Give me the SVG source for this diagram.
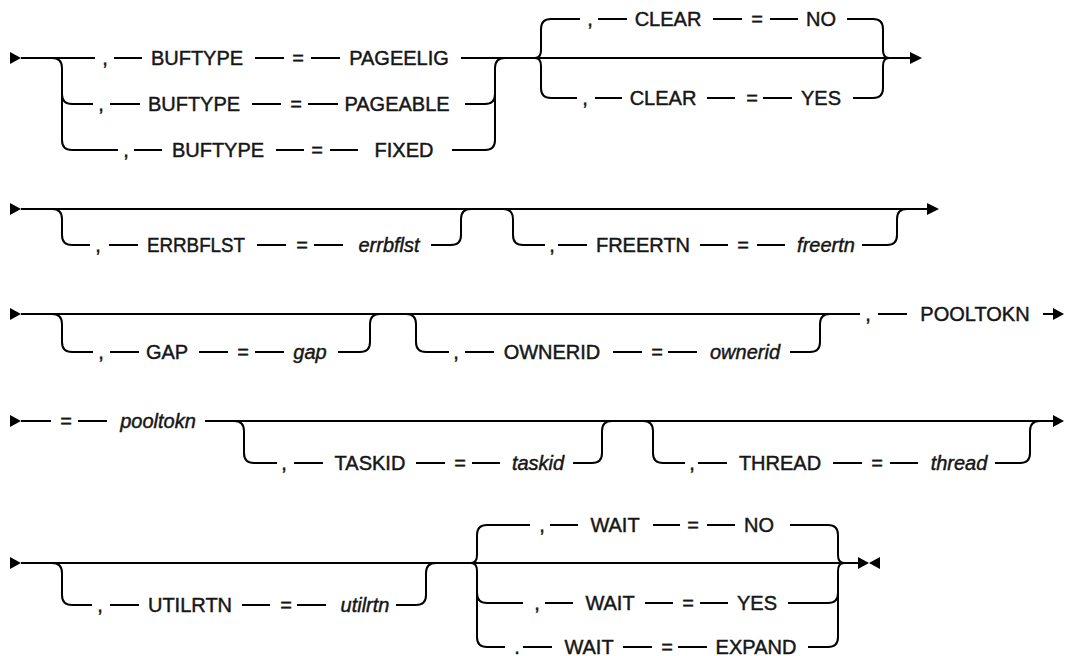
<svg xmlns="http://www.w3.org/2000/svg" width="1065" height="656" viewBox="0 0 1065 656">
<style>
.ln{stroke:#000;stroke-width:2;fill:none;stroke-linecap:butt}
.ar{fill:#000;stroke:none}
.t{font-family:"Liberation Sans",Arial,sans-serif;font-size:20px;text-anchor:middle;fill:#161616;stroke:#161616;stroke-width:0.45}
.v{font-style:italic}
</style>
<rect width="1065" height="656" fill="#fff"/>
<g id="connectors">
<!-- Row 1 -->
<polygon class="ar" points="10,52 21,58 10,64"/>
<path class="ln" d="M21,58 H95"/>
<path class="ln" d="M52,58 Q62,58 62,68 V140 Q62,150 72,150 H118"/>
<path class="ln" d="M62,94 Q62,104 72,104 H93"/>
<path class="ln" d="M114,58 H142 M255,58 H284 M311,58 H340 M461,58 H910"/>
<path class="ln" d="M110,104 H140 M252,104 H281 M308,104 H338 M465,104 H485 Q495,104 495,94"/>
<path class="ln" d="M134,150 H162 M276,150 H304 M330,150 H358 M452,150 H485 Q495,150 495,140 V68 Q495,58 505,58"/>
<path class="ln" d="M535,58 Q541,58 541,50 V29 Q541,19 551,19 H580 M598,19 H627 M713,19 H742 M770,19 H798 M847,19 H873 Q883,19 883,29 V50 Q883,58 889,58"/>
<path class="ln" d="M535,58 Q541,58 541,66 V88 Q541,98 551,98 H577 M595,98 H622 M707,98 H735 M763,98 H792 M853,98 H873 Q883,98 883,88 V66 Q883,58 889,58"/>
<polygon class="ar" points="910,52 922,58 910,64"/>
<!-- Row 2 -->
<polygon class="ar" points="10,203 21,209 10,215"/>
<path class="ln" d="M21,209 H927"/>
<path class="ln" d="M52,209 Q62,209 62,219 V235 Q62,245 72,245 H90 M109,245 H138 M257,245 H286 M314,245 H343 M431,245 H451 Q461,245 461,235 V219 Q461,209 471,209"/>
<path class="ln" d="M503,209 Q513,209 513,219 V235 Q513,245 523,245 H545 M558,245 H587 M700,245 H728 M757,245 H785 M862,245 H887 Q897,245 897,235 V219 Q897,209 907,209"/>
<polygon class="ar" points="927,203 939,209 927,215"/>
<!-- Row 3 -->
<polygon class="ar" points="10,308 21,314 10,320"/>
<path class="ln" d="M21,314 H860"/>
<path class="ln" d="M52,314 Q62,314 62,324 V342 Q62,352 72,352 H93 M110,352 H139 M199,352 H228 M255,352 H284 M338,352 H360 Q370,352 370,342 V324 Q370,314 380,314"/>
<path class="ln" d="M406,314 Q416,314 416,324 V342 Q416,352 426,352 H449 M465,352 H494 M613,352 H642 M668,352 H697 M790,352 H810 Q820,352 820,342 V324 Q820,314 830,314"/>
<path class="ln" d="M878,314 H907 M1043,314 H1054"/>
<polygon class="ar" points="1053,308 1064,314 1053,320"/>
<!-- Row 4 -->
<polygon class="ar" points="10,415 21,421 10,427"/>
<path class="ln" d="M21,421 H51 M78,421 H107 M205,421 H1055"/>
<path class="ln" d="M234,421 Q244,421 244,431 V453 Q244,463 254,463 H277 M294,463 H323 M416,463 H445 M472,463 H500 M573,463 H592 Q602,463 602,453 V431 Q602,421 612,421"/>
<path class="ln" d="M643,421 Q653,421 653,431 V453 Q653,463 663,463 H685 M698,463 H727 M833,463 H862 M890,463 H918 M995,463 H1020 Q1030,463 1030,453 V431 Q1030,421 1040,421"/>
<polygon class="ar" points="1053,415 1064,421 1053,427"/>
<!-- Row 5 -->
<polygon class="ar" points="10,557 21,563 10,569"/>
<path class="ln" d="M21,563 H858"/>
<path class="ln" d="M52,563 Q62,563 62,573 V595 Q62,605 72,605 H92 M110,605 H139 M242,605 H270 M297,605 H326 M396,605 H416 Q426,605 426,595 V573 Q426,563 436,563"/>
<path class="ln" d="M471,563 Q477,563 477,555 V535 Q477,525 487,525 H530 M550,525 H578 M653,525 H680 M707,525 H735 M790,525 H828 Q838,525 838,535 V555 Q838,563 844,563"/>
<path class="ln" d="M471,563 Q477,563 477,571 V637 Q477,647 487,647 H505 M523,647 H552 M623,647 H652 M678,647 H707 M808,647 H828 Q838,647 838,637 V571 Q838,563 844,563"/>
<path class="ln" d="M477,593 Q477,603 487,603 H523 M545,603 H573 M645,603 H673 M700,603 H728 M788,603 H828 Q838,603 838,593"/>
<polygon class="ar" points="858,557 869,563 858,569"/>
<polygon class="ar" points="880,557 869,563 880,569"/>
</g>
<g id="buftype-pageelig">
<text class="t" x="105" y="65">,</text><text class="t" x="197" y="65">BUFTYPE</text><text class="t" x="298" y="65">=</text><text class="t" x="399" y="65">PAGEELIG</text>
</g>
<g id="buftype-pageable">
<text class="t" x="101" y="111">,</text><text class="t" x="194" y="111">BUFTYPE</text><text class="t" x="296" y="111">=</text><text class="t" x="397" y="111">PAGEABLE</text>
</g>
<g id="buftype-fixed">
<text class="t" x="126" y="157">,</text><text class="t" x="218" y="157">BUFTYPE</text><text class="t" x="317" y="157">=</text><text class="t" x="404" y="157">FIXED</text>
</g>
<g id="clear-no">
<text class="t" x="590" y="26">,</text><text class="t" x="668" y="26">CLEAR</text><text class="t" x="757" y="26">=</text><text class="t" x="821" y="26">NO</text>
</g>
<g id="clear-yes">
<text class="t" x="585" y="105">,</text><text class="t" x="663" y="105">CLEAR</text><text class="t" x="752" y="105">=</text><text class="t" x="821" y="105">YES</text>
</g>
<g id="errbflst">
<text class="t" x="98" y="252">,</text><text class="t" x="196" y="252" textLength="98" lengthAdjust="spacingAndGlyphs">ERRBFLST</text><text class="t" x="302" y="252">=</text><text class="t v" x="389" y="252">errbflst</text>
</g>
<g id="freertn">
<text class="t" x="552" y="252">,</text><text class="t" x="643" y="252">FREERTN</text><text class="t" x="743" y="252">=</text><text class="t v" x="826" y="252">freertn</text>
</g>
<g id="gap">
<text class="t" x="101" y="359">,</text><text class="t" x="167" y="359">GAP</text><text class="t" x="243" y="359">=</text><text class="t v" x="310" y="359">gap</text>
</g>
<g id="ownerid">
<text class="t" x="456" y="359">,</text><text class="t" x="552" y="359">OWNERID</text><text class="t" x="657" y="359">=</text><text class="t v" x="745" y="359">ownerid</text>
</g>
<g id="pooltokn-key">
<text class="t" x="868" y="321">,</text><text class="t" x="975" y="321">POOLTOKN</text>
</g>
<g id="pooltokn-value">
<text class="t" x="66" y="428">=</text><text class="t v" x="158" y="428">pooltokn</text>
</g>
<g id="taskid">
<text class="t" x="284" y="470">,</text><text class="t" x="370" y="470">TASKID</text><text class="t" x="460" y="470">=</text><text class="t v" x="538" y="470">taskid</text>
</g>
<g id="thread">
<text class="t" x="692" y="470">,</text><text class="t" x="780" y="470">THREAD</text><text class="t" x="877" y="470">=</text><text class="t v" x="959" y="470">thread</text>
</g>
<g id="utilrtn">
<text class="t" x="100" y="612">,</text><text class="t" x="190" y="612">UTILRTN</text><text class="t" x="286" y="612">=</text><text class="t v" x="365" y="612">utilrtn</text>
</g>
<g id="wait-no">
<text class="t" x="542" y="532">,</text><text class="t" x="615" y="532">WAIT</text><text class="t" x="693" y="532">=</text><text class="t" x="759" y="532">NO</text>
</g>
<g id="wait-yes">
<text class="t" x="537" y="610">,</text><text class="t" x="610" y="610">WAIT</text><text class="t" x="688" y="610">=</text><text class="t" x="757" y="610">YES</text>
</g>
<g id="wait-expand">
<text class="t" x="517" y="654">.</text><text class="t" x="589" y="654">WAIT</text><text class="t" x="667" y="654">=</text><text class="t" x="756" y="654">EXPAND</text>
</g>
</svg>
